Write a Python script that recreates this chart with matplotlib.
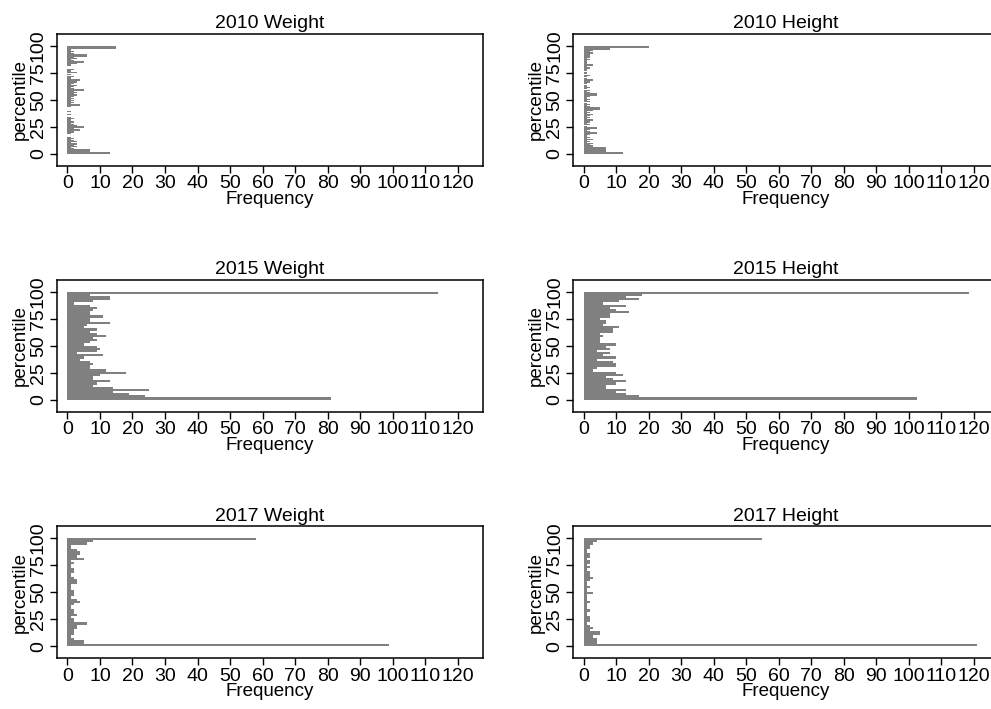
import matplotlib
matplotlib.use('Agg')
import matplotlib.pyplot as plt

plt.rcParams['font.family'] = ['Liberation Sans', 'DejaVu Sans']

# frequencies per percentile bin, listed from the bottom bin (0) upward
w2010 = [13, 13, 7, 7, 2, 1, 3, 2, 3, 3, 1, 3, 2, 1, 2, 1, 0, 0, 1, 2,
         2, 4, 4, 2, 5, 5, 3, 2, 1, 2, 1, 1, 2, 1, 0, 0, 1, 0, 0, 1,
         0, 0, 0, 1, 4, 4, 1, 2, 1, 2, 1, 2, 1, 2, 3, 2, 3, 2, 5, 5,
         2, 1, 2, 3, 1, 2, 3, 4, 4, 1, 1, 2, 0, 1, 0, 3, 1, 1, 2, 0,
         0, 1, 1, 3, 5, 5, 2, 1, 3, 2, 6, 6, 2, 1, 2, 1, 1, 15, 15, 15]
h2010 = [12, 12, 7, 7, 7, 7, 3, 3, 2, 3, 1, 2, 1, 3, 1, 2, 1, 2, 4, 4,
         2, 1, 2, 4, 4, 1, 0, 2, 1, 2, 3, 3, 1, 2, 1, 2, 3, 1, 2, 1,
         3, 5, 5, 2, 1, 2, 1, 0, 2, 1, 2, 1, 1, 2, 4, 4, 2, 1, 2, 0,
         1, 2, 1, 1, 0, 1, 2, 3, 3, 1, 0, 1, 2, 0, 1, 1, 0, 1, 1, 2,
         1, 3, 3, 1, 1, 1, 1, 2, 1, 2, 2, 2, 3, 3, 2, 3, 8, 8, 20, 20]
w2015 = [81, 24, 19, 14, 25, 14, 8, 9, 13, 8, 8, 10, 18, 12, 7, 7, 8, 7, 4, 5,
         11, 3, 9, 10, 9, 5, 7, 9, 8, 12, 9, 7, 9, 5, 6, 13, 7, 7, 11, 7,
         7, 8, 9, 7, 2, 8, 13, 13, 7, 114]
h2015 = [102.5, 17, 13, 10, 13, 7, 7, 10, 13, 9, 7, 12, 10, 3, 4, 10, 10, 9, 4, 10,
         6, 8, 4, 8, 7, 10, 5, 5, 5, 6, 5, 9, 9, 11, 6, 7, 7, 5, 8, 8,
         14, 10, 8, 13, 6, 11, 17, 13, 18, 118.5]
w2017 = [99, 5, 5, 2, 1, 2, 2, 2, 3, 3, 6, 2, 2, 1, 3, 2, 2, 1, 1, 2,
         4, 3, 1, 2, 2, 2, 1, 1, 1, 3, 3, 2, 1, 1, 2, 2, 1, 1, 2, 1,
         5, 3, 4, 4, 3, 1, 1, 6, 8, 58]
h2017 = [121, 4, 4, 4, 3, 5, 5, 2, 3, 2, 1, 2, 2, 2, 1, 1, 2, 1, 1, 1,
         2, 1, 1, 1, 3, 1, 1, 2, 1, 1, 2, 3, 2, 2, 2, 1, 2, 1, 2, 2,
         1, 2, 2, 1, 1, 2, 2, 3, 4, 55]

titles = ['2010 Weight', '2010 Height', '2015 Weight', '2015 Height',
          '2017 Weight', '2017 Height']
series = [w2010, h2010, w2015, h2015, w2017, h2017]

xticks = list(range(0, 121, 10))
yticks = [0, 25, 50, 75, 100]

fig = plt.figure(figsize=(9.91, 7.09), dpi=100)

lefts = [0.0572, 0.578]
bottoms = [0.7663, 0.4196, 0.0719]
width = 0.430
height = 0.1858

for i, (title, vals) in enumerate(zip(titles, series)):
    row, col = divmod(i, 2)
    ax = fig.add_axes([lefts[col], bottoms[row], width, height])
    n = len(vals)
    bw = 100 / n
    starts = [k * bw for k in range(n)]
    ax.barh(starts, vals, height=bw, align='edge', color='#808080',
            linewidth=0)
    ax.set_xlim(-3.3, 127.7)
    ax.set_ylim(-11, 111)
    ax.set_xticks(xticks)
    ax.set_xticklabels([str(t) for t in xticks])
    ax.set_yticks(yticks)
    ax.set_yticklabels([str(t) for t in yticks], rotation=90, va='center')
    ax.tick_params(direction='out', length=5, width=1, labelsize=14, pad=2)
    for s in ax.spines.values():
        s.set_linewidth(1.1)
    ax.set_title(title, fontsize=14, pad=4)
    ax.set_xlabel('Frequency', fontsize=13.5, labelpad=-1)
    ax.set_ylabel('percentile', fontsize=13.5, labelpad=1)

fig.savefig('out.png', dpi=100)
